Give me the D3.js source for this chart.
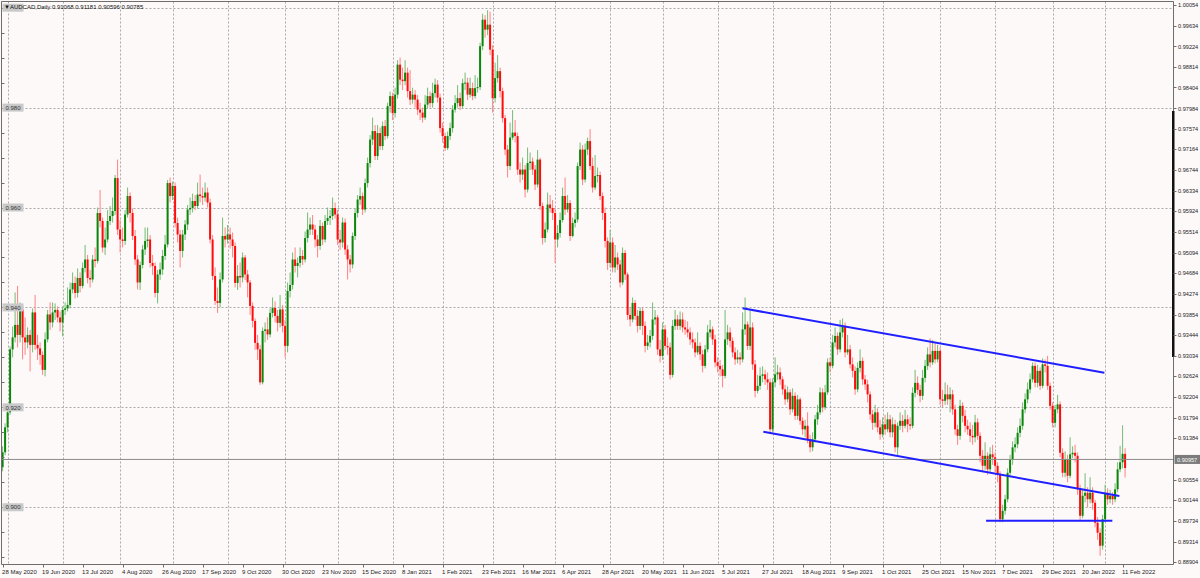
<!DOCTYPE html>
<html><head><meta charset="utf-8">
<script src="https://cdn.jsdelivr.net/npm/d3@7"></script>
<style>
html,body{margin:0;padding:0;background:#fdf9f9;}
svg{display:block;font-family:"Liberation Sans",Arial,sans-serif;}
</style></head><body>
<svg id="c" width="1200" height="578"></svg>
<script>
const symbol = "AUDCAD", period = "Daily";

const opens = [.9080,.9110,.9160,.9190,.9316,.9340,.9365,.9345,.9396,.9340,
.9330,.9345,.9325,.9390,.9325,.9318,.9305,.9275,.9336,.9386,
.9370,.9390,.9395,.9380,.9370,.9395,.9398,.9405,.9436,.9449,
.9429,.9459,.9443,.9479,.9496,.9459,.9456,.9496,.9493,.9589,
.9573,.9520,.9536,.9573,.9583,.9593,.9659,.9556,.9536,.9533,
.9586,.9623,.9589,.9543,.9496,.9450,.9485,.9516,.9533,.9536,
.9489,.9483,.9429,.9466,.9476,.9503,.9526,.9649,.9623,.9643,
.9569,.9546,.9513,.9546,.9566,.9596,.9599,.9613,.9603,.9626,
.9623,.9620,.9630,.9610,.9536,.9463,.9413,.9409,.9456,.9543,
.9536,.9546,.9536,.9523,.9449,.9463,.9460,.9500,.9466,.9450,
.9403,.9373,.9329,.9316,.9250,.9353,.9356,.9346,.9389,.9399,
.9383,.9369,.9396,.9363,.9323,.9433,.9445,.9496,.9483,.9489,
.9503,.9496,.9539,.9556,.9566,.9556,.9536,.9523,.9563,.9536,
.9573,.9579,.9583,.9599,.9586,.9536,.9530,.9570,.9516,.9496,
.9486,.9543,.9589,.9616,.9623,.9596,.9649,.9689,.9736,.9753,
.9703,.9749,.9723,.9763,.9743,.9803,.9823,.9789,.9826,.9886,
.9856,.9853,.9870,.9833,.9816,.9826,.9816,.9796,.9790,.9780,
.9806,.9823,.9809,.9829,.9846,.9820,.9759,.9743,.9719,.9743,
.9759,.9796,.9809,.9819,.9803,.9849,.9850,.9826,.9839,.9823,
.9839,.9841,.9923,.9976,.9956,.9966,.9916,.9819,.9859,.9873,
.9833,.9779,.9716,.9683,.9740,.9750,.9743,.9676,.9666,.9676,
.9636,.9689,.9692,.9676,.9646,.9696,.9603,.9539,.9556,.9606,
.9599,.9589,.9536,.9549,.9575,.9623,.9596,.9609,.9543,.9569,
.9576,.9683,.9716,.9656,.9716,.9733,.9683,.9640,.9663,.9665,
.9623,.9589,.9533,.9489,.9530,.9480,.9500,.9486,.9450,.9509,
.9466,.9385,.9376,.9409,.9383,.9363,.9393,.9363,.9323,.9330,
.9343,.9376,.9380,.9316,.9303,.9356,.9323,.9320,.9265,.9363,
.9376,.9363,.9376,.9360,.9356,.9350,.9336,.9330,.9310,.9323,
.9306,.9283,.9316,.9350,.9356,.9336,.9290,.9283,.9276,.9263,
.9336,.9350,.9333,.9310,.9296,.9300,.9296,.9356,.9366,.9323,
.9360,.9286,.9233,.9243,.9263,.9266,.9256,.9250,.9156,.9250,
.9266,.9270,.9256,.9236,.9216,.9230,.9196,.9223,.9183,.9216,
.9173,.9156,.9163,.9136,.9120,.9136,.9176,.9190,.9230,.9200,
.9230,.9290,.9283,.9330,.9343,.9316,.9350,.9363,.9310,.9316,
.9286,.9273,.9236,.9279,.9293,.9256,.9246,.9226,.9186,.9169,
.9190,.9160,.9146,.9166,.9156,.9176,.9150,.9166,.9120,.9163,
.9173,.9163,.9176,.9166,.9163,.9229,.9249,.9235,.9223,.9259,
.9283,.9306,.9290,.9313,.9296,.9313,.9216,.9213,.9226,.9216,
.9226,.9196,.9156,.9143,.9203,.9183,.9163,.9156,.9143,.9140,
.9170,.9143,.9103,.9083,.9103,.9076,.9106,.9100,.9083,.9066,
.8976,.8993,.9016,.9069,.9096,.9120,.9126,.9149,.9163,.9196,
.9216,.9236,.9256,.9283,.9249,.9273,.9243,.9286,.9283,.9243,
.9203,.9169,.9196,.9206,.9109,.9069,.9096,.9063,.9106,.9109,
.9103,.9036,.8983,.9023,.9029,.9016,.9029,.9009,.8969,.8949,
.8923,.8976,.9029,.9016,.9023,.9016,.9036,.9076,.9090,.91068];

const highs = [.9122,.9168,.9205,.9322,.9362,.9430,.9443,.9410,.9405,.9380,
.9360,.9355,.9398,.9425,.9345,.9330,.9312,.9350,.9395,.9410,
.9410,.9408,.9402,.9392,.9402,.9410,.9440,.9450,.9470,.9462,
.9478,.9470,.9490,.9525,.9505,.9475,.9505,.9520,.9600,.9635,
.9580,.9560,.9595,.9603,.9620,.9665,.9696,.9575,.9560,.9595,
.9640,.9630,.9598,.9555,.9505,.9492,.9525,.9560,.9560,.9545,
.9505,.9490,.9475,.9490,.9515,.9545,.9655,.9660,.9652,.9650,
.9580,.9555,.9555,.9575,.9605,.9620,.9628,.9625,.9650,.9666,
.9640,.9650,.9640,.9618,.9545,.9480,.9440,.9470,.9580,.9560,
.9565,.9560,.9550,.9530,.9485,.9490,.9510,.9505,.9475,.9455,
.9410,.9378,.9345,.9325,.9360,.9370,.9380,.9398,.9420,.9412,
.9395,.9425,.9405,.9375,.9450,.9470,.9510,.9520,.9500,.9520,
.9515,.9552,.9590,.9580,.9585,.9565,.9545,.9575,.9570,.9585,
.9600,.9595,.9620,.9610,.9595,.9555,.9580,.9578,.9525,.9505,
.9550,.9598,.9625,.9640,.9630,.9658,.9700,.9745,.9780,.9765,
.9765,.9760,.9772,.9775,.9810,.9832,.9830,.9840,.9895,.9900,
.9880,.9895,.9880,.9875,.9840,.9835,.9825,.9810,.9800,.9825,
.9840,.9832,.9850,.9858,.9855,.9828,.9770,.9750,.9752,.9770,
.9805,.9825,.9845,.9830,.9858,.9870,.9860,.9860,.9850,.9865,
.9860,.9930,.9988,.9985,.9995,.9992,.9925,.9890,.9905,.9880,
.9840,.9785,.9725,.9770,.9795,.9775,.9750,.9690,.9700,.9685,
.9720,.9710,.9700,.9685,.9715,.9700,.9610,.9570,.9630,.9625,
.9615,.9598,.9565,.9590,.9640,.9660,.9625,.9615,.9580,.9590,
.9690,.9730,.9725,.9728,.9740,.9757,.9700,.9705,.9680,.9672,
.9630,.9600,.9540,.9555,.9540,.9525,.9510,.9495,.9520,.9515,
.9470,.9400,.9420,.9415,.9395,.9400,.9400,.9372,.9345,.9355,
.9410,.9395,.9385,.9335,.9370,.9365,.9340,.9330,.9375,.9395,
.9385,.9392,.9390,.9375,.9372,.9360,.9350,.9338,.9350,.9330,
.9315,.9325,.9365,.9375,.9362,.9345,.9300,.9295,.9285,.9395,
.9365,.9360,.9340,.9320,.9315,.9310,.9390,.9420,.9372,.9395,
.9370,.9295,.9265,.9280,.9282,.9275,.9270,.9258,.9258,.9300,
.9285,.9280,.9262,.9245,.9242,.9236,.9238,.9230,.9225,.9220,
.9180,.9175,.9190,.9145,.9150,.9185,.9205,.9240,.9238,.9245,
.9298,.9300,.9345,.9360,.9350,.9375,.9378,.9370,.9345,.9325,
.9300,.9282,.9290,.9316,.9300,.9265,.9255,.9232,.9195,.9205,
.9198,.9175,.9180,.9185,.9190,.9185,.9180,.9175,.9170,.9190,
.9185,.9195,.9185,.9180,.9240,.9275,.9262,.9245,.9275,.9295,
.9320,.9338,.9335,.9330,.9325,.9320,.9235,.9250,.9245,.9240,
.9235,.9205,.9165,.9215,.9210,.9195,.9175,.9170,.9165,.9185,
.9178,.9150,.9115,.9130,.9110,.9120,.9125,.9110,.9090,.9072,
.9005,.9025,.9078,.9105,.9132,.9140,.9160,.9178,.9210,.9228,
.9250,.9268,.9290,.9290,.9285,.9280,.9298,.9296,.9303,.9250,
.9210,.9205,.9225,.9212,.9118,.9112,.9105,.9140,.9122,.9125,
.9110,.9045,.9035,.9068,.9040,.9060,.9040,.9015,.8980,.8958,
.8985,.9045,.9038,.9035,.9030,.9048,.9090,.9123,.9164,.91181];

const lows = [.9072,.9104,.9150,.9185,.9300,.9330,.9320,.9330,.9296,.9305,
.9318,.9272,.9310,.9315,.9295,.9285,.9265,.9262,.9330,.9355,
.9360,.9375,.9370,.9352,.9342,.9385,.9392,.9398,.9428,.9418,
.9420,.9430,.9438,.9470,.9448,.9440,.9450,.9480,.9488,.9560,
.9510,.9505,.9530,.9565,.9570,.9585,.9545,.9510,.9520,.9525,
.9580,.9570,.9535,.9485,.9436,.9435,.9478,.9505,.9520,.9480,
.9465,.9420,.9408,.9455,.9465,.9495,.9520,.9610,.9615,.9560,
.9530,.9480,.9500,.9535,.9555,.9585,.9590,.9595,.9598,.9610,
.9605,.9612,.9600,.9528,.9455,.9405,.9389,.9400,.9450,.9520,
.9528,.9518,.9500,.9440,.9435,.9440,.9450,.9455,.9420,.9385,
.9360,.9315,.9295,.9245,.9246,.9330,.9335,.9340,.9380,.9370,
.9352,.9360,.9350,.9300,.9310,.9420,.9436,.9470,.9460,.9480,
.9485,.9490,.9530,.9545,.9545,.9520,.9500,.9515,.9525,.9530,
.9565,.9565,.9575,.9578,.9525,.9515,.9520,.9505,.9456,.9470,
.9478,.9535,.9580,.9605,.9585,.9590,.9640,.9680,.9725,.9695,
.9695,.9715,.9715,.9735,.9738,.9790,.9775,.9780,.9818,.9845,
.9835,.9845,.9820,.9805,.9808,.9800,.9785,.9775,.9770,.9775,
.9798,.9800,.9800,.9820,.9810,.9750,.9730,.9713,.9715,.9735,
.9750,.9790,.9800,.9795,.9798,.9835,.9815,.9820,.9815,.9818,
.9830,.9835,.9915,.9940,.9945,.9905,.9790,.9810,.9850,.9820,
.9770,.9705,.9660,.9675,.9735,.9730,.9665,.9650,.9655,.9620,
.9630,.9675,.9665,.9635,.9640,.9595,.9526,.9530,.9550,.9590,
.9575,.9489,.9520,.9540,.9570,.9585,.9590,.9533,.9540,.9560,
.9570,.9675,.9645,.9650,.9705,.9675,.9630,.9635,.9650,.9615,
.9575,.9520,.9475,.9480,.9470,.9470,.9475,.9440,.9445,.9455,
.9375,.9362,.9370,.9375,.9350,.9355,.9345,.9310,.9315,.9320,
.9335,.9365,.9305,.9290,.9295,.9315,.9305,.9256,.9260,.9355,
.9355,.9355,.9350,.9345,.9340,.9325,.9318,.9300,.9305,.9295,
.9270,.9278,.9310,.9340,.9325,.9280,.9270,.9262,.9240,.9258,
.9325,.9320,.9300,.9285,.9288,.9285,.9290,.9345,.9315,.9315,
.9275,.9220,.9228,.9235,.9250,.9245,.9235,.9150,.9150,.9240,
.9255,.9245,.9225,.9205,.9210,.9185,.9190,.9175,.9175,.9165,
.9145,.9140,.9128,.9110,.9112,.9130,.9165,.9185,.9190,.9195,
.9225,.9270,.9278,.9320,.9305,.9310,.9340,.9300,.9305,.9278,
.9260,.9225,.9230,.9270,.9245,.9235,.9210,.9175,.9155,.9160,
.9150,.9135,.9140,.9145,.9150,.9140,.9140,.9110,.9105,.9155,
.9150,.9158,.9150,.9155,.9158,.9220,.9225,.9210,.9215,.9250,
.9275,.9280,.9285,.9288,.9290,.9205,.9200,.9205,.9205,.9190,
.9185,.9145,.9125,.9135,.9170,.9150,.9145,.9130,.9125,.9130,
.9135,.9090,.9070,.9075,.9065,.9070,.9085,.9070,.9050,.8970,
.8970,.8985,.9010,.9060,.9085,.9110,.9118,.9140,.9155,.9188,
.9208,.9228,.9250,.9240,.9240,.9235,.9238,.9270,.9235,.9195,
.9160,.9160,.9188,.9100,.9060,.9060,.9050,.9058,.9098,.9090,
.9025,.8975,.8978,.9010,.9000,.9008,.8995,.8960,.8935,.8903,
.8915,.8970,.9005,.9008,.9005,.9010,.9030,.9070,.9078,.90596];

const closes = [.9110,.9160,.9190,.9316,.9340,.9365,.9345,.9396,.9340,.9330,
.9345,.9325,.9390,.9325,.9318,.9305,.9275,.9336,.9386,.9370,
.9390,.9395,.9380,.9370,.9395,.9398,.9405,.9436,.9449,.9429,
.9459,.9443,.9479,.9496,.9459,.9456,.9496,.9493,.9589,.9573,
.9520,.9536,.9573,.9583,.9593,.9659,.9556,.9536,.9533,.9586,
.9623,.9589,.9543,.9496,.9450,.9485,.9516,.9533,.9536,.9489,
.9483,.9429,.9466,.9476,.9503,.9526,.9649,.9623,.9643,.9569,
.9546,.9513,.9546,.9566,.9596,.9599,.9613,.9603,.9626,.9623,
.9620,.9630,.9610,.9536,.9463,.9413,.9409,.9456,.9543,.9536,
.9546,.9536,.9523,.9449,.9463,.9460,.9500,.9466,.9450,.9403,
.9373,.9329,.9316,.9250,.9353,.9356,.9346,.9389,.9399,.9383,
.9369,.9396,.9363,.9323,.9433,.9445,.9496,.9483,.9489,.9503,
.9496,.9539,.9556,.9566,.9556,.9536,.9523,.9563,.9536,.9573,
.9579,.9583,.9599,.9586,.9536,.9530,.9570,.9516,.9496,.9486,
.9543,.9589,.9616,.9623,.9596,.9649,.9689,.9736,.9753,.9703,
.9749,.9723,.9763,.9743,.9803,.9823,.9789,.9826,.9886,.9856,
.9853,.9870,.9833,.9816,.9826,.9816,.9796,.9790,.9780,.9806,
.9823,.9809,.9829,.9846,.9820,.9759,.9743,.9719,.9743,.9759,
.9796,.9809,.9819,.9803,.9849,.9850,.9826,.9839,.9823,.9839,
.9841,.9923,.9976,.9956,.9966,.9916,.9819,.9859,.9873,.9833,
.9779,.9716,.9683,.9740,.9750,.9743,.9676,.9666,.9676,.9636,
.9689,.9692,.9676,.9646,.9696,.9603,.9539,.9556,.9606,.9599,
.9589,.9536,.9549,.9575,.9623,.9596,.9609,.9543,.9569,.9576,
.9683,.9716,.9656,.9716,.9733,.9683,.9640,.9663,.9665,.9623,
.9589,.9533,.9489,.9530,.9480,.9500,.9486,.9450,.9509,.9466,
.9385,.9376,.9409,.9383,.9363,.9393,.9363,.9323,.9330,.9343,
.9376,.9380,.9316,.9303,.9356,.9323,.9320,.9265,.9363,.9376,
.9363,.9376,.9360,.9356,.9350,.9336,.9330,.9310,.9323,.9306,
.9283,.9316,.9350,.9356,.9336,.9290,.9283,.9276,.9263,.9336,
.9350,.9333,.9310,.9296,.9300,.9296,.9356,.9366,.9323,.9360,
.9286,.9233,.9243,.9263,.9266,.9256,.9250,.9156,.9250,.9266,
.9270,.9256,.9236,.9216,.9230,.9196,.9223,.9183,.9216,.9173,
.9156,.9163,.9136,.9120,.9136,.9176,.9190,.9230,.9200,.9230,
.9290,.9283,.9330,.9343,.9316,.9350,.9363,.9310,.9316,.9286,
.9273,.9236,.9279,.9293,.9256,.9246,.9226,.9186,.9169,.9190,
.9160,.9146,.9166,.9156,.9176,.9150,.9166,.9120,.9163,.9173,
.9163,.9176,.9166,.9163,.9229,.9249,.9235,.9223,.9259,.9283,
.9306,.9290,.9313,.9296,.9313,.9216,.9213,.9226,.9216,.9226,
.9196,.9156,.9143,.9203,.9183,.9163,.9156,.9143,.9140,.9170,
.9143,.9103,.9083,.9103,.9076,.9106,.9100,.9083,.9066,.8976,
.8993,.9016,.9069,.9096,.9120,.9126,.9149,.9163,.9196,.9216,
.9236,.9256,.9283,.9249,.9273,.9243,.9286,.9283,.9243,.9203,
.9169,.9196,.9206,.9109,.9069,.9096,.9063,.9106,.9109,.9103,
.9036,.8983,.9023,.9029,.9016,.9029,.9009,.8969,.8949,.8923,
.8976,.9029,.9016,.9023,.9016,.9036,.9076,.9090,.9107,.90785];

const dateLabels = ["28 May 2020","19 Jun 2020","13 Jul 2020","4 Aug 2020","26 Aug 2020","17 Sep 2020","9 Oct 2020","30 Oct 2020","23 Nov 2020","15 Dec 2020","8 Jan 2021","1 Feb 2021","23 Feb 2021","16 Mar 2021","6 Apr 2021","28 Apr 2021","20 May 2021","11 Jun 2021","5 Jul 2021","27 Jul 2021","18 Aug 2021","9 Sep 2021","1 Oct 2021","25 Oct 2021","15 Nov 2021","7 Dec 2021","29 Dec 2021","20 Jan 2022","11 Feb 2022"];
const dateLabelBars = [0,16,32,48,64,80,96,112,128,144,160,176,192,208,224,240,256,272,288,304,320,336,352,368,384,400,416,432,448];
const monthStartBars = [2,24,47,68,90,113,134,156,176,196,221,243,264,286,308,331,352,375,397,420,441];
const rightTicks = [1.00054,0.99634,0.99224,0.98814,0.98404,0.97984,0.97574,0.97164,0.96744,0.96334,0.95924,0.95514,0.95094,0.94684,0.94274,0.93854,0.93444,0.93034,0.92624,0.92204,0.91794,0.91384,0.90554,0.90144,0.89734,0.89314,0.88904];
const gridLevels = [0.90,0.92,0.94,0.96,0.98,1.00];
const levelLabels = [0.90,0.92,0.94,0.96,0.98];
const currentPrice = 0.90957;
const trendStartBar = [296, 304.3, 393.4];
const trendStartPrice = [0.93982, 0.91511, 0.8973];
const trendEndBar = [440.7, 446.7, 443.9];
const trendEndPrice = [0.92693, 0.90224, 0.8973];

const svg = d3.select("#c");
const L = 1.5, R = 1173.5, T = 1.5, B = 564.5;
const x = d3.scaleLinear().domain([0, 449]).range([2.6, 1125.1]);
const y = d3.scaleLinear().domain([0.88904, 1.00054]).range([562, 5]);
const bg = "#fdf9f9", frame = "#6e6e6e", grid = "#a9a9a9";

svg.append("rect").attr("width",1200).attr("height",578).attr("fill",bg);

// grids
svg.append("g").selectAll("line").data(gridLevels).join("line")
  .attr("x1",L).attr("x2",R).attr("y1",d=>Math.round(y(d))+0.5).attr("y2",d=>Math.round(y(d))+0.5)
  .attr("stroke",grid).attr("stroke-dasharray","2,2");
svg.append("g").selectAll("line").data(monthStartBars).join("line")
  .attr("x1",d=>Math.round(x(d))+0.5).attr("x2",d=>Math.round(x(d))+0.5).attr("y1",T).attr("y2",B)
  .attr("stroke",grid).attr("stroke-dasharray","2,2");

// candles
const idx = d3.range(closes.length);
const gC = svg.append("g");
gC.selectAll("line").data(idx).join("line")
  .attr("x1",i=>x(i)).attr("x2",i=>x(i)).attr("y1",i=>y(highs[i])).attr("y2",i=>y(lows[i]))
  .attr("stroke",i=>closes[i]>=opens[i]?"#74bb74":"#ff8282").attr("stroke-width",1);
gC.selectAll("rect").data(idx).join("rect")
  .attr("x",i=>x(i)-1).attr("width",2)
  .attr("y",i=>y(Math.max(opens[i],closes[i])))
  .attr("height",i=>Math.max(1,Math.abs(y(opens[i])-y(closes[i]))))
  .attr("fill",i=>closes[i]>=opens[i]?"#0a870a":"#ff0c0c");

// current price line
svg.append("line").attr("x1",L).attr("x2",R).attr("y1",y(currentPrice)).attr("y2",y(currentPrice))
  .attr("stroke","#8c8c8c").attr("stroke-width",1);

// trend lines
svg.append("g").selectAll("line").data(d3.range(trendStartBar.length)).join("line")
  .attr("x1",k=>x(trendStartBar[k])).attr("y1",k=>y(trendStartPrice[k]))
  .attr("x2",k=>x(trendEndBar[k])).attr("y2",k=>y(trendEndPrice[k]))
  .attr("stroke","#1f1fff").attr("stroke-width",2);

// frame
svg.append("line").attr("x1",L).attr("x2",R).attr("y1",T).attr("y2",T).attr("stroke",frame);
svg.append("line").attr("x1",L).attr("x2",R).attr("y1",B).attr("y2",B).attr("stroke",frame);
svg.append("line").attr("x1",L).attr("x2",L).attr("y1",T).attr("y2",B).attr("stroke",frame);
svg.append("line").attr("x1",R).attr("x2",R).attr("y1",T).attr("y2",B).attr("stroke",frame);
svg.append("rect").attr("x",R-1.5).attr("y",111).attr("width",2.5).attr("height",246).attr("fill","#111");

// left minor ticks
const leftMinor = d3.range(0.890, 1.0001, 0.005);
svg.append("g").selectAll("line").data(leftMinor).join("line")
  .attr("x1",L).attr("x2",L+3).attr("y1",d=>Math.round(y(d))+0.5).attr("y2",d=>Math.round(y(d))+0.5)
  .attr("stroke",frame);

// right axis
const gR = svg.append("g");
gR.selectAll("line").data(rightTicks).join("line")
  .attr("x1",R).attr("x2",R+3).attr("y1",d=>Math.round(y(d))+0.5).attr("y2",d=>Math.round(y(d))+0.5)
  .attr("stroke",frame);
gR.selectAll("text").data(rightTicks).join("text")
  .attr("x",R+4.5).attr("y",d=>y(d)+2.1).attr("font-size",5.6).attr("fill","#222")
  .text(d=>d.toFixed(5));
svg.append("rect").attr("x",R+1).attr("y",y(currentPrice)-4.5).attr("width",26).attr("height",9).attr("fill","#7b7b7b");
svg.append("text").attr("x",R+3.5).attr("y",y(currentPrice)+2.1).attr("font-size",5.6).attr("fill","#fff").text(currentPrice.toFixed(5));

// bottom axis
const gB = svg.append("g");
gB.selectAll("line").data(dateLabelBars).join("line")
  .attr("x1",i=>Math.round(x(i))+0.5).attr("x2",i=>Math.round(x(i))+0.5).attr("y1",B).attr("y2",B+3)
  .attr("stroke",frame);
gB.selectAll("text").data(dateLabelBars).join("text")
  .attr("x",i=>x(i)-0.5).attr("y",574).attr("font-size",6).attr("fill","#222")
  .text((i,k)=>dateLabels[k]);

// left level labels (the top level's box sits under the title)
const gL = svg.append("g");
gL.selectAll("rect").data(gridLevels).join("rect")
  .attr("x",L+1).attr("y",d=>y(d)-4).attr("width",21).attr("height",8).attr("fill","#c9c9c9");
gL.selectAll("text").data(levelLabels).join("text")
  .attr("x",L+4).attr("y",d=>y(d)+2.2).attr("font-size",6).attr("fill","#333")
  .text(d=>d.toFixed(3));

// title
const n = closes.length-1;
svg.append("text").attr("x",4).attr("y",9).attr("font-size",6).attr("fill","#111")
  .text("\u25BC" + symbol + "," + period + "  " + [opens[n],highs[n],lows[n],closes[n]].map(v=>v.toFixed(5)).join(" "));
</script>
</body></html>
